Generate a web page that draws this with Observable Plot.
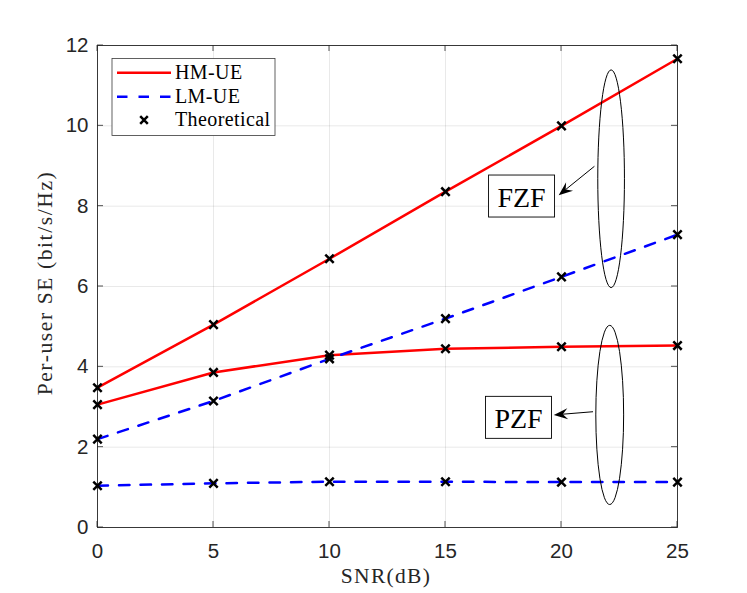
<!DOCTYPE html>
<html>
<head>
<meta charset="utf-8">
<script src="https://cdn.jsdelivr.net/npm/d3@7"></script>
<script src="https://cdn.jsdelivr.net/npm/@observablehq/plot@0.6"></script>
<style>
  html, body { margin: 0; padding: 0; background: #fff; }
  #chart { width: 747px; height: 593px; }
  #chart svg g[aria-label^="x-axis"] text,
  #chart svg g[aria-label^="y-axis"] text {
    font-size: 20.5px;
    font-family: 'Liberation Sans', Arial, Helvetica, sans-serif;
  }
</style>
</head>
<body>
<div id="chart"></div>
<script>
// ---- data ----
const snr = [0, 5, 10, 15, 20, 25];
const fzfHM = [3.48, 5.05, 6.69, 8.36, 10.0, 11.67];
const fzfLM = [2.20, 3.15, 4.20, 5.20, 6.24, 7.29];
const pzfHM = [3.06, 3.86, 4.29, 4.45, 4.50, 4.53];
const pzfLM = [1.04, 1.10, 1.14, 1.14, 1.13, 1.13];
const xTicks = [0, 5, 10, 15, 20, 25];
const yTicks = [0, 2, 4, 6, 8, 10, 12];
const legendLabels = ["HM-UE", "LM-UE", "Theoretical"];
const groupNames = ["FZF", "PZF"];
// annotation anchors in data units: ellipse centre/radii, label centre, arrow start/end
const ellipses = [
  {cx: 22.16, cy: 8.67, rx: 0.575, ry: 2.71},
  {cx: 22.10, cy: 2.79, rx: 0.60, ry: 2.23}
];
const labelPos = [
  {x: 18.30, y: 8.24},
  {x: 18.17, y: 2.73}
];
const arrows = [
  {x1: 21.44, y1: 8.98, x2: 19.90, y2: 8.26},
  {x1: 21.38, y1: 2.87, x2: 19.69, y2: 2.79}
];

// ---- build tables ----
function rowsOf(vals, ue, scheme) {
  return snr.map((s, i) => ({snr: s, se: vals[i], ue, scheme}));
}
const hmRows = [...rowsOf(fzfHM, "HM-UE", "FZF"), ...rowsOf(pzfHM, "HM-UE", "PZF")];
const lmRows = [...rowsOf(fzfLM, "LM-UE", "FZF"), ...rowsOf(pzfLM, "LM-UE", "PZF")];
const allRows = [...hmRows, ...lmRows];

const RED = "#ff0000", BLUE = "#0000ff", AX = "#262626";
const DASH = "10.5,11";
const SERIF = "'Liberation Serif', 'Times New Roman', serif";

function getScales(scales, dims) {
  let sx = scales && typeof scales.x === "function" ? scales.x : null;
  let sy = scales && typeof scales.y === "function" ? scales.y : null;
  if (!sx) sx = d3.scaleLinear([0, 25], [dims.marginLeft, dims.width - dims.marginRight]);
  if (!sy) sy = d3.scaleLinear([0, 12], [dims.height - dims.marginBottom, dims.marginTop]);
  return {sx, sy};
}

// inward ticks on all four sides
function ticksMark(index, scales, values, dims) {
  const {sx, sy} = getScales(scales, dims);
  const g = d3.create("svg:g").attr("stroke", AX).attr("stroke-width", 0.8);
  const top = dims.marginTop, bot = dims.height - dims.marginBottom;
  const left = dims.marginLeft, right = dims.width - dims.marginRight;
  const L = 6;
  for (const t of xTicks) {
    const x = sx(t);
    g.append("line").attr("x1", x).attr("x2", x).attr("y1", bot).attr("y2", bot - L);
    g.append("line").attr("x1", x).attr("x2", x).attr("y1", top).attr("y2", top + L);
  }
  for (const t of yTicks) {
    const y = sy(t);
    g.append("line").attr("y1", y).attr("y2", y).attr("x1", left).attr("x2", left + L);
    g.append("line").attr("y1", y).attr("y2", y).attr("x1", right).attr("x2", right - L);
  }
  return g.node();
}

// ellipses, arrows and labelled boxes
function annotationMark(index, scales, values, dims) {
  const {sx, sy} = getScales(scales, dims);
  const g = d3.create("svg:g");
  ellipses.forEach(e => {
    const cx = sx(e.cx), cy = sy(e.cy);
    g.append("ellipse")
      .attr("cx", cx).attr("cy", cy)
      .attr("rx", Math.abs(sx(e.cx + e.rx) - cx))
      .attr("ry", Math.abs(sy(e.cy + e.ry) - cy))
      .attr("fill", "none").attr("stroke", "#000").attr("stroke-width", 1);
  });
  arrows.forEach(a => {
    const x1 = sx(a.x1), y1 = sy(a.y1), x2 = sx(a.x2), y2 = sy(a.y2);
    const dx = x2 - x1, dy = y2 - y1, len = Math.hypot(dx, dy);
    const ux = dx / len, uy = dy / len, nx = -uy, ny = ux;
    const HL = 14, HW = 5.5, NOTCH = 9;
    g.append("line").attr("x1", x1).attr("y1", y1)
      .attr("x2", x2 - ux * NOTCH).attr("y2", y2 - uy * NOTCH)
      .attr("stroke", "#000").attr("stroke-width", 1);
    const p = [
      [x2, y2],
      [x2 - ux * HL + nx * HW, y2 - uy * HL + ny * HW],
      [x2 - ux * NOTCH, y2 - uy * NOTCH],
      [x2 - ux * HL - nx * HW, y2 - uy * HL - ny * HW]
    ];
    g.append("path").attr("d", "M" + p.map(q => q.join(",")).join("L") + "Z")
      .attr("fill", "#000");
  });
  labelPos.forEach((l, i) => {
    const cx = sx(l.x), cy = sy(l.y);
    const W = 66, H = 42;
    g.append("rect").attr("x", cx - W / 2).attr("y", cy - H / 2)
      .attr("width", W).attr("height", H)
      .attr("fill", "#fff").attr("stroke", "#000").attr("stroke-width", 0.9);
    g.append("text").attr("x", cx).attr("y", cy + 10.8)
      .attr("text-anchor", "middle")
      .attr("font-family", SERIF).attr("font-size", 28)
      .attr("fill", "#000").attr("stroke", "none")
      .text(groupNames[i]);
  });
  return g.node();
}

// legend in the upper-left corner of the axes
function legendMark(index, scales, values, dims) {
  const g = d3.create("svg:g");
  const x0 = dims.marginLeft;
  const y0 = dims.marginTop;
  g.append("rect").attr("x", x0 + 15).attr("y", y0 + 13.5)
    .attr("width", 163).attr("height", 77)
    .attr("fill", "#fff").attr("stroke", "#3a3a3a").attr("stroke-width", 0.8);
  const rowsY = [y0 + 27.7, y0 + 51.7, y0 + 75];
  g.append("line").attr("x1", x0 + 20).attr("x2", x0 + 74)
    .attr("y1", rowsY[0]).attr("y2", rowsY[0])
    .attr("stroke", RED).attr("stroke-width", 2.5);
  g.append("line").attr("x1", x0 + 20).attr("x2", x0 + 74)
    .attr("y1", rowsY[1]).attr("y2", rowsY[1])
    .attr("stroke", BLUE).attr("stroke-width", 2.5).attr("stroke-dasharray", DASH);
  const mx = x0 + 47, my = rowsY[2], r = 3.8;
  g.append("path")
    .attr("d", `M${mx - r},${my - r}L${mx + r},${my + r}M${mx - r},${my + r}L${mx + r},${my - r}`)
    .attr("stroke", "#000").attr("stroke-width", 2.5);
  legendLabels.forEach((t, i) => {
    g.append("text").attr("x", x0 + 78).attr("y", rowsY[i] + 5.8)
      .attr("text-anchor", "start")
      .attr("font-family", SERIF).attr("font-size", 20)
      .attr("letter-spacing", 0.4)
      .attr("fill", "#000").attr("stroke", "none")
      .text(t);
  });
  return g.node();
}

// axis titles
function titlesMark(index, scales, values, dims) {
  const g = d3.create("svg:g");
  g.append("text").attr("x", 386).attr("y", 583)
    .attr("text-anchor", "middle")
    .attr("font-family", SERIF).attr("font-size", 21.5)
    .attr("letter-spacing", 1.3)
    .attr("fill", AX).attr("stroke", "none")
    .text("SNR(dB)");
  g.append("text")
    .attr("transform", "translate(52,283) rotate(-90)")
    .attr("text-anchor", "middle")
    .attr("font-family", SERIF).attr("font-size", 21.5)
    .attr("letter-spacing", 1.6)
    .attr("fill", AX).attr("stroke", "none")
    .text("Per-user SE (bit/s/Hz)");
  return g.node();
}

const chart = Plot.plot({
  width: 747,
  height: 593,
  marginLeft: 97,
  marginRight: 70,
  marginTop: 45,
  marginBottom: 66,
  style: {
    fontFamily: "'Liberation Sans', Arial, Helvetica, sans-serif",
    fontSize: "20.5px",
    color: AX,
    background: "#fff",
    overflow: "visible"
  },
  x: {
    domain: [0, 25],
    ticks: xTicks,
    tickSize: 0,
    tickPadding: 16,
    grid: true,
    label: null
  },
  y: {
    domain: [0, 12],
    ticks: yTicks,
    tickSize: 0,
    tickPadding: 9,
    grid: true,
    label: null
  },
  marks: [
    Plot.frame({stroke: AX, strokeWidth: 0.9}),
    ticksMark,
    Plot.line(hmRows, {x: "snr", y: "se", z: "scheme", stroke: RED, strokeWidth: 2.5}),
    Plot.line(lmRows, {x: "snr", y: "se", z: "scheme", stroke: BLUE, strokeWidth: 2.5, strokeDasharray: DASH}),
    Plot.dot(allRows, {x: "snr", y: "se", symbol: "times", r: 3.9, stroke: "#000", strokeWidth: 2.5}),
    annotationMark,
    legendMark,
    titlesMark
  ]
});
document.getElementById("chart").appendChild(chart);
</script>
</body>
</html>
